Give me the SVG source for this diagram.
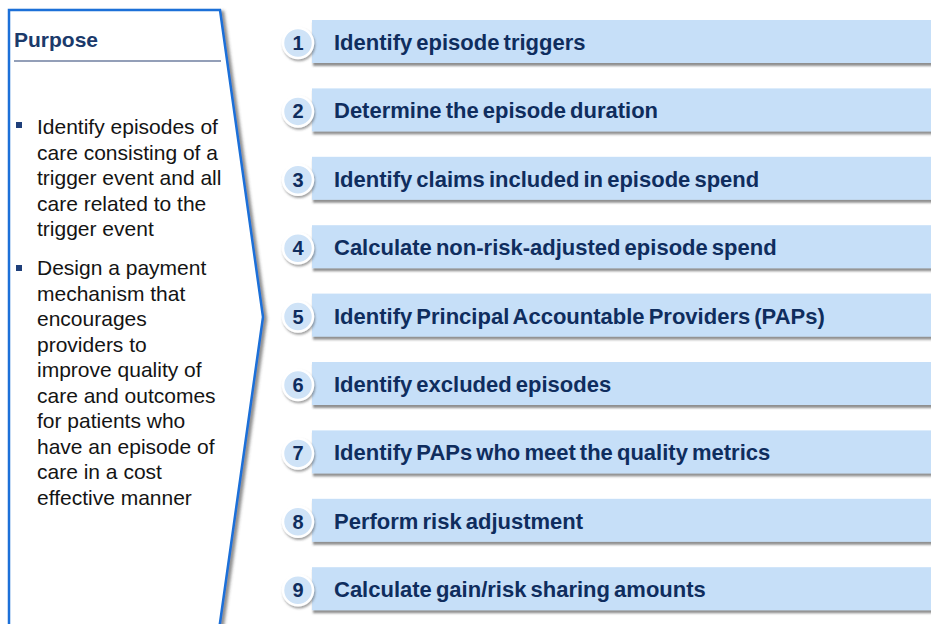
<svg xmlns="http://www.w3.org/2000/svg" width="931" height="624" viewBox="0 0 931 624">
<defs>
<filter id="sh" x="-10%" y="-30%" width="120%" height="180%">
<feDropShadow dx="1" dy="3" stdDeviation="1.2" flood-color="#444" flood-opacity="0.6"/>
</filter>
<filter id="psh" x="-10%" y="-5%" width="130%" height="110%">
<feDropShadow dx="3" dy="2" stdDeviation="1.5" flood-color="#444" flood-opacity="0.6"/>
</filter>
<filter id="csh" x="-40%" y="-40%" width="180%" height="180%">
<feDropShadow dx="1" dy="2" stdDeviation="1.2" flood-color="#444" flood-opacity="0.5"/>
</filter>
</defs>
<style>
.box{fill:#c6dff8;filter:url(#sh)}
.circ{fill:#cfe3f7;stroke:#fff;stroke-width:2.5;filter:url(#csh)}
.num{font-family:"Liberation Sans",Arial,sans-serif;font-weight:bold;font-size:20px;fill:#0f2d5e;text-anchor:middle}
.lbl{font-family:"Liberation Sans",Arial,sans-serif;font-weight:bold;font-size:22px;word-spacing:-2px;fill:#0f2d5e}
.body{font-family:"Liberation Sans",Arial,sans-serif;font-size:21px;fill:#141414}
.bul{fill:#1f3f7a}
</style>
<rect width="931" height="624" fill="#fff"/>
<g id="purpose">
<polygon points="9,10 220,10 263,317 219,630 9,630" fill="#fff" stroke="#1a6fd8" stroke-width="2.5" filter="url(#psh)"/>
<text x="14" y="47" font-family="Liberation Sans, Arial, sans-serif" font-weight="bold" font-size="21px" fill="#1b3a6b">Purpose</text>
<line x1="14" y1="61" x2="221" y2="61" stroke="#6f7fa0" stroke-width="1.5"/>
<rect class="bul" x="16" y="122" width="6" height="6"/>
<text class="body"><tspan x="37" y="134">Identify episodes of</tspan><tspan x="37" y="159.5">care consisting of a</tspan><tspan x="37" y="185">trigger event and all</tspan><tspan x="37" y="210.5">care related to the</tspan><tspan x="37" y="236">trigger event</tspan></text>
<rect class="bul" x="16" y="265" width="6" height="6"/>
<text class="body"><tspan x="37" y="275">Design a payment</tspan><tspan x="37" y="300.5">mechanism that</tspan><tspan x="37" y="326">encourages</tspan><tspan x="37" y="351.5">providers to</tspan><tspan x="37" y="377">improve quality of</tspan><tspan x="37" y="402.5">care and outcomes</tspan><tspan x="37" y="428">for patients who</tspan><tspan x="37" y="453.5">have an episode of</tspan><tspan x="37" y="479">care in a cost</tspan><tspan x="37" y="504.5">effective manner</tspan></text>
</g>
<g id="step1"><rect class="box" x="312" y="20" width="625" height="43"/><circle class="circ" cx="298" cy="43" r="15"/><text class="num" x="298" y="50">1</text><text class="lbl" x="334" y="50">Identify episode triggers</text></g>
<g id="step2"><rect class="box" x="312" y="88.4" width="625" height="43"/><circle class="circ" cx="298" cy="111.4" r="15"/><text class="num" x="298" y="118.4">2</text><text class="lbl" x="334" y="118.4">Determine the episode duration</text></g>
<g id="step3"><rect class="box" x="312" y="156.8" width="625" height="43"/><circle class="circ" cx="298" cy="179.8" r="15"/><text class="num" x="298" y="186.8">3</text><text class="lbl" x="334" y="186.8">Identify claims included in episode spend</text></g>
<g id="step4"><rect class="box" x="312" y="225.2" width="625" height="43"/><circle class="circ" cx="298" cy="248.2" r="15"/><text class="num" x="298" y="255.2">4</text><text class="lbl" x="334" y="255.2">Calculate non-risk-adjusted episode spend</text></g>
<g id="step5"><rect class="box" x="312" y="293.6" width="625" height="43"/><circle class="circ" cx="298" cy="316.6" r="15"/><text class="num" x="298" y="323.6">5</text><text class="lbl" x="334" y="323.6">Identify Principal Accountable Providers (PAPs)</text></g>
<g id="step6"><rect class="box" x="312" y="362" width="625" height="43"/><circle class="circ" cx="298" cy="385" r="15"/><text class="num" x="298" y="392">6</text><text class="lbl" x="334" y="392">Identify excluded episodes</text></g>
<g id="step7"><rect class="box" x="312" y="430.4" width="625" height="43"/><circle class="circ" cx="298" cy="453.4" r="15"/><text class="num" x="298" y="460.4">7</text><text class="lbl" x="334" y="460.4">Identify PAPs who meet the quality metrics</text></g>
<g id="step8"><rect class="box" x="312" y="498.8" width="625" height="43"/><circle class="circ" cx="298" cy="521.8" r="15"/><text class="num" x="298" y="528.8">8</text><text class="lbl" x="334" y="528.8">Perform risk adjustment</text></g>
<g id="step9"><rect class="box" x="312" y="567.2" width="625" height="43"/><circle class="circ" cx="298" cy="590.2" r="15"/><text class="num" x="298" y="597.2">9</text><text class="lbl" x="334" y="597.2">Calculate gain/risk sharing amounts</text></g>
<g id="connectors"/>
</svg>
